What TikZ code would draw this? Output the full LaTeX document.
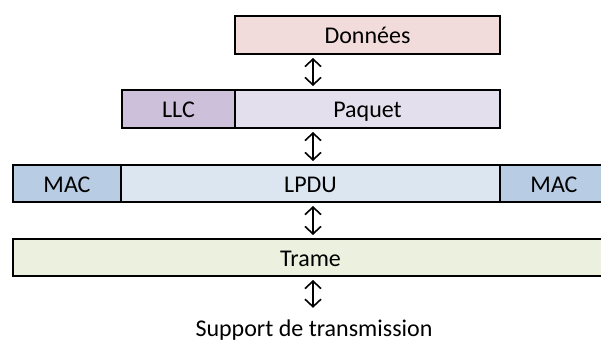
\documentclass[tikz,border=0pt]{standalone}
\usepackage{fontspec}
\setmainfont{Carlito}
\usetikzlibrary{arrows.meta}
\definecolor{donneesfill}{HTML}{F2DCDB}
\definecolor{llcfill}{HTML}{CCC0DA}
\definecolor{paquetfill}{HTML}{E4DFEC}
\definecolor{macfill}{HTML}{B8CCE4}
\definecolor{lpdufill}{HTML}{DCE6F1}
\definecolor{tramefill}{HTML}{EBF1DE}
\tikzset{
  field/.style={draw=black, line width=2pt, rectangle, inner sep=0pt,
    anchor=north west, font=\fontsize{24}{28}\selectfont, text=black,
    text height=17pt, text depth=0pt},
  biarrow/.style={line width=1.6pt, {Straight Barb[length=7.5pt,width=16pt]}-{Straight Barb[length=7.5pt,width=16pt]},
    shorten <=3pt, shorten >=3pt}
}
\begin{document}
\begin{tikzpicture}[x=1pt,y=-1pt]
  \useasboundingbox (0,0) rectangle (601,343);
  \clip (0,0) rectangle (601,343);
  % protocol data units, top to bottom
  \node[field, fill=donneesfill, minimum width=265pt, minimum height=38pt] (donnees) at (234,15) {Données};
  \node[field, fill=llcfill, minimum width=113pt, minimum height=38pt] (llc) at (121,89) {LLC};
  \node[field, fill=paquetfill, minimum width=265pt, minimum height=38pt] (paquet) at (234,89) {Paquet};
  \node[field, fill=macfill, minimum width=108pt, minimum height=37pt] (macg) at (12,164) {MAC};
  \node[field, fill=lpdufill, minimum width=379pt, minimum height=37pt] (lpdu) at (120,164) {LPDU};
  \node[field, fill=macfill, minimum width=108pt, minimum height=37pt] (macd) at (499,164) {MAC};
  \node[field, fill=tramefill, minimum width=595pt, minimum height=37pt] (trame) at (12,238) {Trame};
  \node[font=\fontsize{24}{28}\selectfont, anchor=base, inner sep=0pt,
    text height=17pt, text depth=6pt] (support) at (314,336) {Support de transmission};
  % vertical axis for the exchange arrows
  \coordinate (axis) at (313,0);
  \draw[biarrow] (donnees.south -| axis) -- (paquet.north -| axis);
  \draw[biarrow] (paquet.south -| axis) -- (lpdu.north -| axis);
  \draw[biarrow] (lpdu.south -| axis) -- (trame.north -| axis);
  \draw[biarrow, shorten >=11pt] (trame.south -| axis) -- (support.north -| axis);
\end{tikzpicture}
\end{document}
